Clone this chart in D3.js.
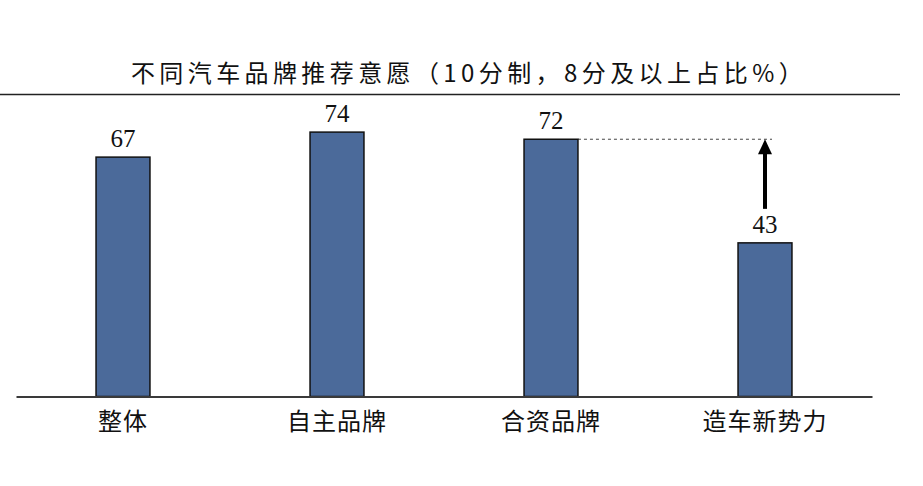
<!DOCTYPE html>
<html><head><meta charset="utf-8">
<script src="https://cdn.jsdelivr.net/npm/d3@7"></script>
<style>body{margin:0;background:#fff}</style>
</head><body>
<svg id="c" width="923" height="486"></svg>
<script>
const titleText = "不同汽车品牌推荐意愿（10分制，8分及以上占比%）";
const categories = ["整体", "自主品牌", "合资品牌", "造车新势力"];
const values = [67, 74, 72, 43];
// comparison: arrow from the last bar's label up to the 合资品牌 level
const refIndex = 2, targetIndex = 3;

const svg = d3.select("#c");
const x = d3.scaleBand().domain(categories).range([16, 872]).paddingInner(0.748).paddingOuter(0.374);
const y = d3.scaleLinear().domain([0, 100]).range([396.5, 39.2]);

// title
svg.append("text").attr("x", 469).attr("y", 82).attr("text-anchor", "middle")
  .attr("font-family", "'Noto Sans CJK SC'").attr("font-size", 24).attr("letter-spacing", 4.4)
  .attr("fill", "#111").text(titleText);
svg.append("line").attr("x1", 0).attr("x2", 900).attr("y1", 94.5).attr("y2", 94.5)
  .attr("stroke", "#222").attr("stroke-width", 1.5);

// dashed reference line
svg.append("line")
  .attr("x1", x(categories[refIndex]) + x.bandwidth()).attr("x2", x(categories[targetIndex]) + x.bandwidth()/2 + 7)
  .attr("y1", y(values[refIndex])).attr("y2", y(values[refIndex]))
  .attr("stroke", "#444").attr("stroke-width", 1).attr("stroke-dasharray", "3,3");

// bars
svg.selectAll("rect.bar").data(values).join("rect").attr("class", "bar")
  .attr("x", (d, i) => x(categories[i])).attr("width", x.bandwidth())
  .attr("y", d => y(d)).attr("height", d => y(0) - y(d))
  .attr("fill", "#4B6A9A").attr("stroke", "#111").attr("stroke-width", 1.5);

// value labels
svg.selectAll("text.val").data(values).join("text").attr("class", "val")
  .attr("x", (d, i) => x(categories[i]) + x.bandwidth()/2).attr("y", d => y(d) - 10)
  .attr("text-anchor", "middle").attr("font-family", "'Liberation Serif'").attr("font-size", 25)
  .attr("fill", "#111").text(d => d);

// axis
const axis = svg.append("g").attr("transform", `translate(0,${y(0)})`)
  .call(d3.axisBottom(x).tickSize(0).tickPadding(0));
axis.select(".domain").attr("stroke", "#3a3a3a").attr("stroke-width", 2);
axis.selectAll("text").attr("dy", null).attr("y", 33)
  .attr("font-family", "'Noto Sans CJK SC'").attr("font-size", 24).attr("letter-spacing", 1)
  .attr("fill", "#111");

// arrow
const ax = x(categories[targetIndex]) + x.bandwidth()/2;
const tipY = y(values[refIndex]);
const baseY = y(values[targetIndex]) - 34;
svg.append("line").attr("x1", ax).attr("x2", ax).attr("y1", baseY).attr("y2", tipY + 12)
  .attr("stroke", "#000").attr("stroke-width", 4);
svg.append("path").attr("d", `M${ax},${tipY} L${ax-7},${tipY+15} L${ax+7},${tipY+15} Z`).attr("fill", "#000");
</script>
</body></html>
